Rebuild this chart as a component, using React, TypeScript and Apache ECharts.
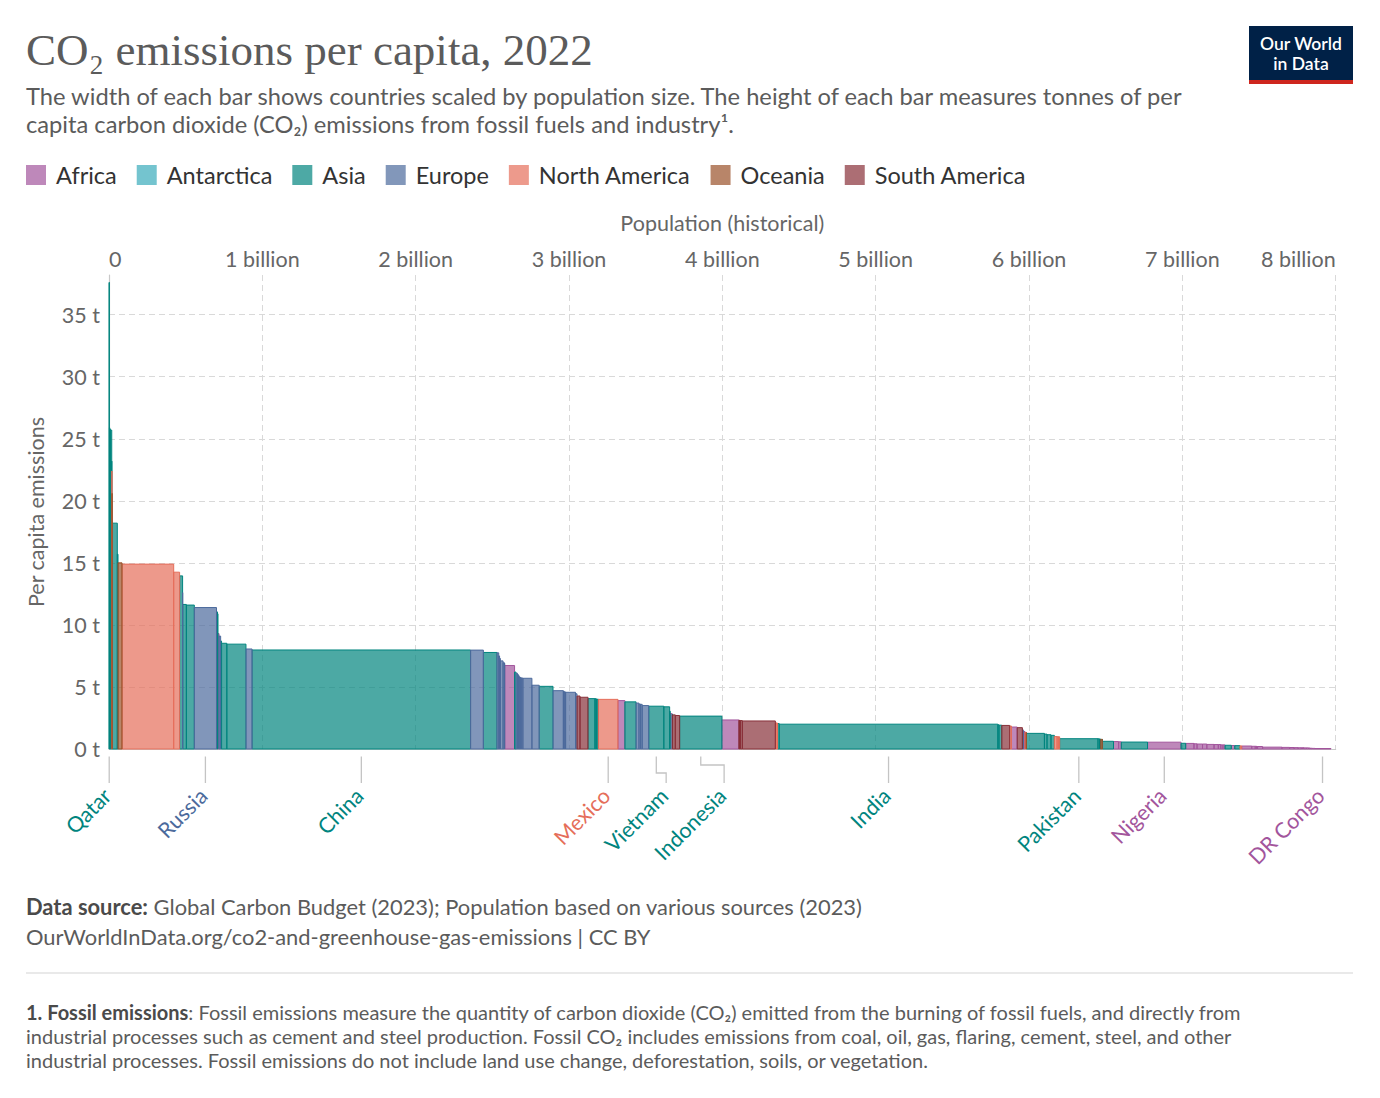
import React, { useEffect, useRef } from "react";
import * as echarts from "echarts";

// Continents, in legend order, with their base colours
const REGIONS = ["Africa", "Antarctica", "Asia", "Europe", "North America", "Oceania", "South America"];
const REGION_CODES = ["AF", "AN", "AS", "EU", "NA", "OC", "SA"];
const REGION_COLORS = ["#A2559C", "#38AABA", "#00847E", "#4C6A9C", "#E56E5A", "#9A5129", "#883039"];

// Countries sorted by per capita emissions (descending)
const countries = [
  "Qatar", "Bahrain", "Kuwait", "United Arab Emirates", "Brunei", "Trinidad and Tobago", "New Caledonia", "Saudi Arabia", "Oman", "Australia",
  "United States", "Canada", "Kazakhstan", "Luxembourg", "Taiwan", "South Korea", "Russia", "Turkmenistan", "Mongolia", "Libya",
  "Czechia", "Singapore", "Malaysia", "Japan", "Poland", "China", "Germany", "Iran", "Belgium", "Norway",
  "Ireland", "Netherlands", "Austria", "Slovenia", "South Africa", "Israel", "Belarus", "Finland", "Slovakia", "Bulgaria",
  "Serbia", "Greece", "Italy", "Spain", "Turkey", "United Kingdom", "Denmark", "Switzerland", "France", "Hungary",
  "Chile", "Argentina", "Iraq", "Hong Kong", "Lebanon", "Azerbaijan", "Mexico", "Algeria", "Thailand", "Romania",
  "Sweden", "Portugal", "Ukraine", "Vietnam", "Uzbekistan", "Georgia", "Tunisia", "Armenia", "Ecuador", "Venezuela",
  "Indonesia", "Egypt", "Uruguay", "Paraguay", "Bolivia", "Brazil", "Dominican Republic", "Jamaica", "Jordan", "India",
  "Laos", "Syria", "Colombia", "Cuba", "Morocco", "Peru", "Albania", "Moldova", "Namibia", "Botswana",
  "Gabon", "Equatorial Guinea", "Eswatini", "Nicaragua", "Mauritius", "Fiji", "Philippines", "Cambodia", "North Korea", "Sri Lanka",
  "Guatemala", "Honduras", "El Salvador", "Pakistan", "Tajikistan", "Kyrgyzstan", "East Timor", "Papua New Guinea", "Bhutan", "Myanmar",
  "Ghana", "Senegal", "Bangladesh", "Nigeria", "Nepal", "Kenya", "Zambia", "Angola", "Cote d'Ivoire", "Sudan",
  "Cameroon", "Zimbabwe", "Guinea", "Benin", "Afghanistan", "Mali", "Yemen", "Haiti", "Tanzania", "Burkina Faso",
  "Togo", "Eritrea", "Gambia", "Mozambique", "Ethiopia", "Uganda", "Madagascar", "Niger", "Malawi", "Sierra Leone",
  "Liberia", "Guinea-Bissau", "Chad", "Rwanda", "South Sudan", "Burundi", "Somalia", "DR Congo", "Central African Republic",
];

const countryRegion = [
  "AS", "AS", "AS", "AS", "AS", "NA", "OC", "AS", "AS", "OC",
  "NA", "NA", "AS", "EU", "AS", "AS", "EU", "AS", "AS", "AF",
  "EU", "AS", "AS", "AS", "EU", "AS", "EU", "AS", "EU", "EU",
  "EU", "EU", "EU", "EU", "AF", "AS", "EU", "EU", "EU", "EU",
  "EU", "EU", "EU", "EU", "AS", "EU", "EU", "EU", "EU", "EU",
  "SA", "SA", "AS", "AS", "AS", "AS", "NA", "AF", "AS", "EU",
  "EU", "EU", "EU", "AS", "AS", "AS", "AF", "AS", "SA", "SA",
  "AS", "AF", "SA", "SA", "SA", "SA", "NA", "NA", "AS", "AS",
  "AS", "AS", "SA", "NA", "AF", "SA", "EU", "EU", "AF", "AF",
  "AF", "AF", "AF", "NA", "AF", "OC", "AS", "AS", "AS", "AS",
  "NA", "NA", "NA", "AS", "AS", "AS", "AS", "OC", "AS", "AS",
  "AF", "AF", "AS", "AF", "AS", "AF", "AF", "AF", "AF", "AF",
  "AF", "AF", "AF", "AF", "AS", "AF", "AS", "NA", "AF", "AF",
  "AF", "AF", "AF", "AF", "AF", "AF", "AF", "AF", "AF", "AF",
  "AF", "AF", "AF", "AF", "AF", "AF", "AF", "AF", "AF",
];

// Population, millions
const populationMillions = [
  2.7, 1.5, 4.3, 9.4, 0.45, 1.5, 0.3, 34, 4.6, 26.2,
  337, 38.5, 19.6, 0.65, 23.9, 51.8, 144.7, 6.4, 3.4, 6.8,
  10.5, 5.9, 34.3, 124.9, 39.9, 1425, 83.4, 88.5, 11.7, 5.5,
  5.1, 17.6, 9.0, 2.1, 64, 9.6, 9.5, 5.6, 5.4, 6.8,
  6.8, 10.4, 59.0, 47.6, 90, 67.5, 5.9, 8.7, 64.6, 9.9,
  19.6, 52, 45, 7.4, 5.5, 10.1, 127.5, 45, 73, 19,
  10.5, 10.3, 43, 98.2, 38, 3.7, 12.4, 2.8, 18, 28.3,
  275.5, 111, 3.4, 6.8, 12.2, 215.3, 11.2, 2.8, 11.3, 1425.8,
  7.5, 18, 51.9, 11.2, 37.5, 34, 2.8, 3.3, 2.6, 2.6,
  2.4, 1.7, 1.2, 6.9, 1.3, 0.9, 118, 16.8, 26, 22,
  17.8, 10.4, 6.3, 250, 10, 6.9, 1.3, 10.1, 0.8, 72,
  33.5, 17.3, 171.2, 218.5, 30.5, 54, 20, 35.6, 28.2, 47,
  27.9, 16.3, 13.9, 13.4, 41, 22.6, 33.7, 11.6, 65.5, 22.7,
  8.8, 3.7, 2.7, 33, 126, 50, 29.6, 26.2, 20.4, 8.6,
  5.3, 2.1, 17.7, 13.8, 10.9, 12.9, 17.6, 99, 5.6,
];

// Per capita CO2 emissions, tonnes
const perCapitaTonnes = [
  37.6, 25.9, 25.8, 25.7, 23.2, 22.4, 20.6, 18.2, 15.7, 15.0,
  14.9, 14.25, 13.95, 12.6, 11.65, 11.6, 11.4, 11.05, 10.9, 9.3,
  9.1, 8.7, 8.52, 8.45, 8.06, 7.98, 7.97, 7.78, 7.75, 7.5,
  7.3, 7.1, 6.95, 6.9, 6.73, 6.2, 6.1, 6.0, 5.9, 5.8,
  5.75, 5.72, 5.7, 5.14, 5.05, 4.7, 4.65, 4.6, 4.57, 4.45,
  4.27, 4.17, 4.06, 4.05, 4.03, 4.01, 4.0, 3.9, 3.8, 3.7,
  3.62, 3.6, 3.5, 3.45, 3.4, 3.05, 2.85, 2.8, 2.75, 2.7,
  2.65, 2.34, 2.32, 2.3, 2.29, 2.26, 2.1, 2.08, 2.05, 2.0,
  1.95, 1.92, 1.9, 1.85, 1.77, 1.72, 1.6, 1.5, 1.45, 1.44,
  1.42, 1.4, 1.37, 1.35, 1.34, 1.33, 1.26, 1.2, 1.15, 1.1,
  1.0, 0.99, 0.98, 0.83, 0.82, 0.8, 0.8, 0.78, 0.78, 0.62,
  0.6, 0.58, 0.56, 0.55, 0.46, 0.45, 0.42, 0.4, 0.4, 0.37,
  0.36, 0.36, 0.33, 0.33, 0.3, 0.28, 0.27, 0.25, 0.24, 0.22,
  0.22, 0.2, 0.2, 0.2, 0.15, 0.13, 0.12, 0.11, 0.1, 0.1,
  0.1, 0.1, 0.09, 0.09, 0.08, 0.06, 0.05, 0.04, 0.04,
];

// Countries named below the axis
const labelledCountries = ["Qatar", "Russia", "China", "Mexico", "Vietnam", "Indonesia", "India", "Pakistan", "Nigeria", "DR Congo"];

// Population axis (millions) and emissions axis (tonnes)
const xAxisMax = 8000;
const xAxisStep = 1000;
const yAxisMax = 38.2;
const yAxisStep = 5;

const FONT = "Lato, 'Noto Sans', sans-serif";
const TEXT_GREY = "#5b5b5b";
const AXIS_GREY = "#666";

function withAlpha(hex: string, a: number) {
  const n = parseInt(hex.slice(1), 16);
  return `rgba(${(n >> 16) & 255},${(n >> 8) & 255},${n & 255},${a})`;
}
function onWhite(hex: string, a: number) {
  const n = parseInt(hex.slice(1), 16);
  const c = [(n >> 16) & 255, (n >> 8) & 255, n & 255].map((v) => Math.round(v * a + 255 * (1 - a)));
  return "#" + c.map((v) => v.toString(16).padStart(2, "0")).join("");
}

export default function App() {
  const ref = useRef<HTMLDivElement>(null);

  useEffect(() => {
    if (!ref.current) return;
    const chart = echarts.init(ref.current, null, { renderer: "svg" });

    // cumulative population gives each bar its left and right edge
    let acc = 0;
    const bars = countries.map((name, i) => {
      const x0 = acc;
      acc += populationMillions[i];
      return { name, x0, x1: acc, v: perCapitaTonnes[i], region: REGION_CODES.indexOf(countryRegion[i]) };
    });

    const barSeries = REGIONS.map((regionName, r) => {
      const base = REGION_COLORS[r];
      const items = bars.filter((b) => b.region === r);
      return {
        type: "custom",
        name: regionName,
        silent: true,
        itemStyle: { color: onWhite(base, 0.7) },
        encode: { x: [0, 1], y: 2 },
        data: items.map((b) => ({ name: b.name, value: [b.x0, b.x1, b.v] })),
        renderItem: (_p: any, api: any) => {
          const a = api.coord([api.value(0), api.value(2)]);
          const b = api.coord([api.value(1), 0]);
          return {
            type: "rect",
            shape: { x: a[0], y: a[1], width: b[0] - a[0], height: b[1] - a[1] },
            style: { fill: withAlpha(base, 0.7), stroke: base, lineWidth: 1 },
          };
        },
      };
    });

    // label placement: shift a label right when it would collide with the previous one
    const minGap = 378; // millions of people, about 58px on this axis
    let prev = -Infinity;
    const labelItems = labelledCountries.map((name) => {
      const b = bars.find((d) => d.name === name)!;
      const center = (b.x0 + b.x1) / 2;
      const pos = Math.max(center, prev + minGap);
      prev = pos;
      return { name, value: [center, pos, b.region] };
    });

    const labelSeries = {
      type: "custom",
      name: "labels",
      silent: true,
      clip: false,
      encode: { x: 0, y: -1 },
      data: labelItems,
      renderItem: (p: any, api: any) => {
        const c = api.coord([api.value(0), 0]);
        const l = api.coord([api.value(1), 0]);
        const color = REGION_COLORS[api.value(2)];
        const top = c[1] + 7.5;
        const bottom = c[1] + 34;
        const shift = l[0] - c[0];
        let points: number[][];
        if (shift > 0.5) {
          const elbow = c[1] + (shift > 15 ? 16 : 24);
          points = [[c[0], top], [c[0], elbow], [l[0], elbow], [l[0], bottom]];
        } else {
          points = [[c[0], top], [c[0], bottom]];
        }
        return {
          type: "group",
          children: [
            { type: "polyline", shape: { points }, style: { stroke: "#c4c4c4", lineWidth: 1.3, fill: null } },
            {
              type: "text",
              x: l[0] - 2,
              y: bottom + 9,
              rotation: Math.PI / 4,
              style: {
                text: labelItems[p.dataIndex].name,
                fill: color,
                fontSize: 21.5,
                fontFamily: FONT,
                align: "right",
                verticalAlign: "middle",
              },
            },
          ],
        };
      },
    };

    const gridLeft = 109;
    const gridTop = 275;
    const gridWidth = (xAxisMax / 1000) * 153.33;
    const gridHeight = 474;

    const option: any = {
      animation: false,
      backgroundColor: "#ffffff",
      textStyle: { fontFamily: FONT },
      grid: { left: gridLeft, top: gridTop, width: gridWidth, height: gridHeight, containLabel: false },
      legend: {
        left: 26,
        top: 163,
        padding: 0,
        icon: "rect",
        itemWidth: 20,
        itemHeight: 20,
        itemGap: 20,
        selectedMode: false,
        textStyle: { fontSize: 23.5, color: "#333", fontFamily: FONT, padding: [0, 0, 0, 5] },
        data: REGIONS.map((r, i) => ({ name: r, itemStyle: { color: onWhite(REGION_COLORS[i], 0.7) } })),
      },
      xAxis: [
        {
          type: "value",
          position: "top",
          min: 0,
          max: xAxisMax,
          interval: xAxisStep,
          name: "Population (historical)",
          nameLocation: "middle",
          nameGap: 41,
          nameTextStyle: { fontSize: 21.5, color: AXIS_GREY, fontFamily: FONT },
          axisLine: { show: false },
          axisTick: { show: false },
          axisLabel: {
            fontSize: 21.5,
            color: AXIS_GREY,
            fontFamily: FONT,
            margin: 5,
            alignMinLabel: "left",
            alignMaxLabel: "right",
            formatter: (v: number) => (v === 0 ? "0" : `${v / 1000} billion`),
          },
          splitLine: { show: true, lineStyle: { color: "#d9d9d9", type: [6, 4], width: 1 } },
        },
        {
          type: "value",
          position: "bottom",
          min: 0,
          max: xAxisMax,
          interval: xAxisStep,
          axisLine: { show: true, onZero: false, lineStyle: { color: "#c8c8c8", width: 1.2 } },
          axisTick: { show: false },
          axisLabel: { show: false },
          splitLine: { show: false },
        },
      ],
      yAxis: {
        type: "value",
        min: 0,
        max: yAxisMax,
        interval: yAxisStep,
        name: "Per capita emissions",
        nameLocation: "middle",
        nameGap: 62,
        nameTextStyle: { fontSize: 21.5, color: AXIS_GREY, fontFamily: FONT },
        axisLine: { show: true, lineStyle: { color: "#c8c8c8", width: 1.2 } },
        axisTick: { show: false },
        axisLabel: {
          fontSize: 21.5,
          color: AXIS_GREY,
          fontFamily: FONT,
          margin: 9,
          showMaxLabel: false,
          formatter: (v: number) => (v % yAxisStep === 0 ? `${v} t` : ""),
        },
        splitLine: { show: true, showMaxLine: false, lineStyle: { color: "#d9d9d9", type: [6, 4], width: 1 } },
      },
      series: [...barSeries, labelSeries],
      graphic: [
        {
          type: "text",
          x: 26,
          y: 50,
          style: {
            text: "CO₂ emissions per capita, 2022",
            fontSize: 45,
            fontFamily: "'Liberation Serif', 'DejaVu Serif', serif",
            fill: TEXT_GREY,
            verticalAlign: "middle",
          },
        },
        {
          type: "text",
          x: 26,
          y: 96,
          style: {
            text: "The width of each bar shows countries scaled by population size. The height of each bar measures tonnes of per",
            fontSize: 23.7,
            fontFamily: FONT,
            fill: TEXT_GREY,
            verticalAlign: "middle",
          },
        },
        {
          type: "text",
          x: 26,
          y: 124,
          style: {
            text: "capita carbon dioxide (CO₂) emissions from fossil fuels and industry¹.",
            fontSize: 23.7,
            fontFamily: FONT,
            fill: TEXT_GREY,
            verticalAlign: "middle",
          },
        },
        // logo
        { type: "rect", shape: { x: 1249, y: 26, width: 104, height: 54 }, style: { fill: "#002147" } },
        { type: "rect", shape: { x: 1249, y: 80, width: 104, height: 4 }, style: { fill: "#CE261E" } },
        {
          type: "text",
          x: 1301,
          y: 43,
          style: { text: "Our World", fontSize: 17.5, fontWeight: 600, fontFamily: FONT, fill: "#fff", align: "center", verticalAlign: "middle" },
        },
        {
          type: "text",
          x: 1301,
          y: 63,
          style: { text: "in Data", fontSize: 17.5, fontWeight: 600, fontFamily: FONT, fill: "#fff", align: "center", verticalAlign: "middle" },
        },
        // footer
        {
          type: "text",
          x: 26,
          y: 906,
          style: {
            text: "{b|Data source:} Global Carbon Budget (2023); Population based on various sources (2023)",
            fontSize: 21.9,
            fontFamily: FONT,
            fill: TEXT_GREY,
            verticalAlign: "middle",
            rich: { b: { fontSize: 21.9, fontFamily: FONT, fontWeight: "bold", fill: "#4a4a4a" } },
          },
        },
        {
          type: "text",
          x: 26,
          y: 936,
          style: {
            text: "OurWorldInData.org/co2-and-greenhouse-gas-emissions | CC BY",
            fontSize: 21.9,
            fontFamily: FONT,
            fill: TEXT_GREY,
            verticalAlign: "middle",
          },
        },
        { type: "line", shape: { x1: 26, y1: 973, x2: 1353, y2: 973 }, style: { stroke: "#e2e2e2", lineWidth: 1.5 } },
        {
          type: "text",
          x: 26,
          y: 1012,
          style: {
            text: "{b|1. Fossil emissions}: Fossil emissions measure the quantity of carbon dioxide (CO₂) emitted from the burning of fossil fuels, and directly from",
            fontSize: 20,
            fontFamily: FONT,
            fill: TEXT_GREY,
            verticalAlign: "middle",
            rich: { b: { fontSize: 20, fontFamily: FONT, fontWeight: "bold", fill: "#4a4a4a" } },
          },
        },
        {
          type: "text",
          x: 26,
          y: 1036,
          style: {
            text: "industrial processes such as cement and steel production. Fossil CO₂ includes emissions from coal, oil, gas, flaring, cement, steel, and other",
            fontSize: 20,
            fontFamily: FONT,
            fill: TEXT_GREY,
            verticalAlign: "middle",
          },
        },
        {
          type: "text",
          x: 26,
          y: 1060,
          style: {
            text: "industrial processes. Fossil emissions do not include land use change, deforestation, soils, or vegetation.",
            fontSize: 20,
            fontFamily: FONT,
            fill: TEXT_GREY,
            verticalAlign: "middle",
          },
        },
      ],
    };

    chart.setOption(option);
    return () => chart.dispose();
  }, []);

  return (
    <div
      ref={ref}
      style={{ position: "fixed", left: 0, top: 0, width: 1380, height: 1098, background: "#fff" }}
    />
  );
}
